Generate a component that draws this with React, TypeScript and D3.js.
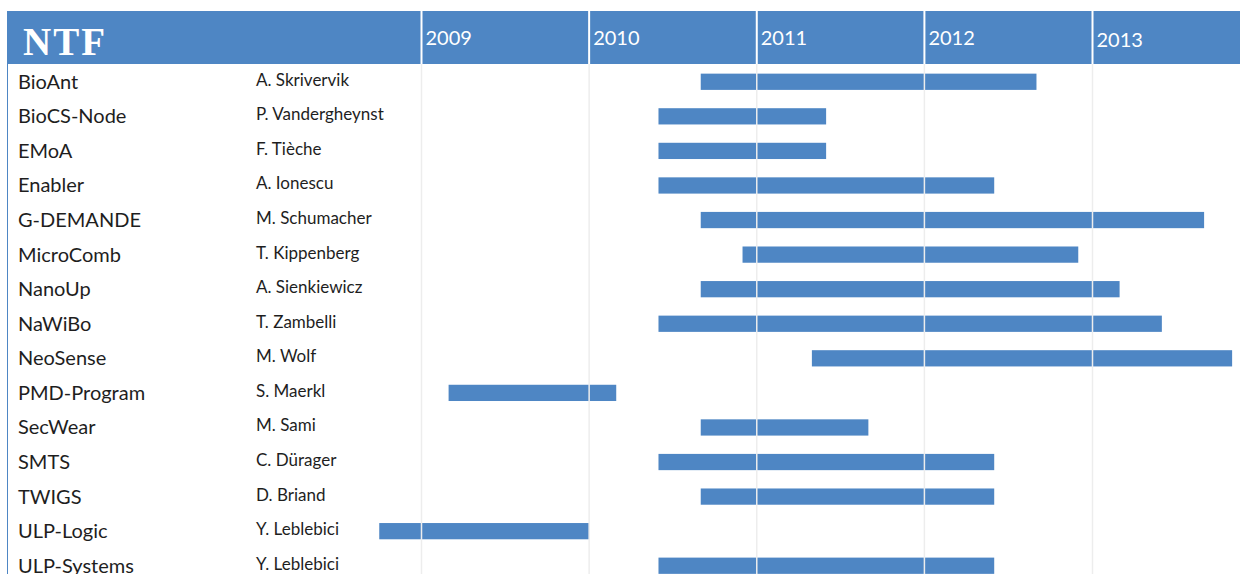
import React, { ReactElement } from 'react';
import * as d3 from 'd3';

// project rows, top to bottom
const projects = ['BioAnt', 'BioCS-Node', 'EMoA', 'Enabler', 'G-DEMANDE', 'MicroComb', 'NanoUp', 'NaWiBo',
  'NeoSense', 'PMD-Program', 'SecWear', 'SMTS', 'TWIGS', 'ULP-Logic', 'ULP-Systems'];
const leaders = ['A. Skrivervik', 'P. Vandergheynst', 'F. Tièche', 'A. Ionescu', 'M. Schumacher', 'T. Kippenberg',
  'A. Sienkiewicz', 'T. Zambelli', 'M. Wolf', 'S. Maerkl', 'M. Sami', 'C. Dürager', 'D. Briand', 'Y. Leblebici', 'Y. Leblebici'];
const starts = ['2010-09', '2010-06', '2010-06', '2010-06', '2010-09', '2010-12', '2010-09', '2010-06',
  '2011-05', '2009-03', '2010-09', '2010-06', '2010-09', '2008-10', '2010-06'];
const ends = ['2012-09', '2011-06', '2011-06', '2012-06', '2013-09', '2012-12', '2013-03', '2013-06',
  '2013-11', '2010-03', '2011-09', '2012-06', '2012-06', '2010-01', '2012-06'];
const years = [2009, 2010, 2011, 2012, 2013];

const W = 1248, H = 574;
const BLUE = '#4e86c4';
const parse = d3.timeParse('%Y-%m');

const App = (): ReactElement => {
  const x = d3.scaleTime()
    .domain([new Date(2009, 0, 1), new Date(2013, 0, 1)])
    .range([421.5, 1092.5]);

  const y = d3.scaleBand<string>()
    .domain(projects)
    .range([65, 65 + 34.5 * projects.length])
    .paddingInner(0.53)
    .paddingOuter(0.25);

  const headTop = 11, headBottom = 64;
  const font = 'Lato, "Open Sans", sans-serif';

  return (
    <svg width={W} height={H} style={{ position: 'absolute', left: 0, top: 0, background: '#fff' }}>
      {/* header band */}
      <rect x={8} y={headTop} width={1232} height={headBottom - headTop} fill={BLUE} />
      <line x1={7.5} x2={7.5} y1={headTop} y2={H} stroke={BLUE} strokeWidth={1} />
      <text x={23} y={55} fill="#fff" fontFamily='"Liberation Serif", "DejaVu Serif", serif'
        fontWeight="bold" fontSize={39} letterSpacing={2}>NTF</text>
      {years.map(yr => {
        const gx = x(new Date(yr, 0, 1));
        return (
          <g key={yr}>
            <line x1={gx} x2={gx} y1={headTop} y2={headBottom} stroke="#fff" strokeWidth={2} />
            <text x={gx + 4} y={yr === 2013 ? 47 : 45} fill="#fff" fontFamily={font} fontSize={20}>{yr}</text>
          </g>
        );
      })}

      {/* bars */}
      {projects.map((p, i) => {
        const x0 = x(parse(starts[i]) as Date);
        const x1 = x(parse(ends[i]) as Date);
        return <rect key={p} x={x0} y={y(p)} width={x1 - x0} height={y.bandwidth()} fill={BLUE} />;
      })}

      {/* year gridlines through the body */}
      {years.map(yr => {
        const gx = x(new Date(yr, 0, 1));
        return <line key={'g' + yr} x1={gx} x2={gx} y1={headBottom} y2={H} stroke="#ededed" strokeWidth={1.5} />;
      })}

      {/* row labels */}
      {projects.map((p, i) => {
        const cy = (y(p) as number) + y.bandwidth() / 2;
        return (
          <g key={'l' + p}>
            <text x={18} y={cy + 7} fill="#1e1e1e" fontFamily={font} fontSize={20}>{p}</text>
            <text x={256} y={cy + 4} fill="#1e1e1e" fontFamily={font} fontSize={17}>{leaders[i]}</text>
          </g>
        );
      })}
    </svg>
  );
};

export default App;
